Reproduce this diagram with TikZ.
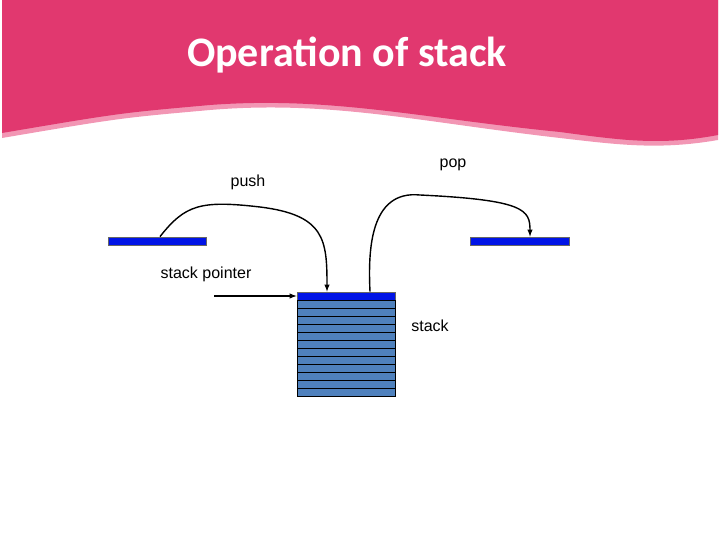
\documentclass[tikz,border=0pt]{standalone}
\usepackage{fontspec}
\setmainfont{Liberation Sans}
\newfontfamily\titlefont{Carlito}
\usetikzlibrary{arrows}
\definecolor{pink1}{RGB}{225,56,111}
\definecolor{pink2}{RGB}{242,150,180}
\definecolor{bar1}{RGB}{0,20,230}
\definecolor{cell1}{RGB}{79,129,189}

\begin{document}
\begin{tikzpicture}[x=1pt,y=-1pt,>=latex,line width=1.4pt]
  \tikzstyle{label}=[font=\fontsize{16}{19}\selectfont,text=black]
  \tikzstyle{bar}=[draw=black!60,fill=bar1,line width=0.8pt]
  \useasboundingbox (0,0) rectangle (720,540);
  % header
  \fill[pink2] (2,0) -- (718,0) -- (718,140) .. controls (660,150) and (620,145) .. (560,138)
    .. controls (420,122) and (330,100) .. (210,110) .. controls (120,118) .. (2,138) -- cycle;
  \fill[pink1] (2,0) -- (718,0) -- (718,135) .. controls (660,146) and (620,140) .. (560,132)
    .. controls (420,118) and (330,96) .. (210,105) .. controls (120,113) .. (2,133) -- cycle;
  \node[text=white,font=\titlefont\bfseries\fontsize{42}{48}\selectfont] (title) at (347,55) {Operation of stack};
  % bars
  \node[bar,minimum width=98,minimum height=8,inner sep=0] (left) at (157,241) {};
  \node[bar,minimum width=99,minimum height=8,inner sep=0] (right) at (520,241) {};
  \node[bar,minimum width=98,minimum height=8,inner sep=0] (top) at (346,296) {};
  % stack cells
  \foreach \i in {0,...,11}
    \draw[fill=cell1,line width=0.8pt] (297,300+8*\i) rectangle (395,308+8*\i);
  \coordinate (sp) at (214,296);
  % labels
  \node[label] (push) at (248,182) {push};
  \node[label] (pop) at (453,165) {pop};
  \node[label] (spl) at (206,274) {stack pointer};
  \node[label] (stk) at (430,326) {stack};
  % arrows
  \draw[->] (left.north) ++(3,0) .. controls (185,205) and (200,200) .. (260,207)
    .. controls (325,215) and (327,240) .. ([xshift=-19]top.north);
  \draw[->] ([xshift=24]top.north) .. controls (368,250) and (370,190) .. (420,195)
    .. controls (525,200) and (530,210) .. ([xshift=10]right.north);
  \draw[->] (sp) -- (top.west);
\end{tikzpicture}
\end{document}
